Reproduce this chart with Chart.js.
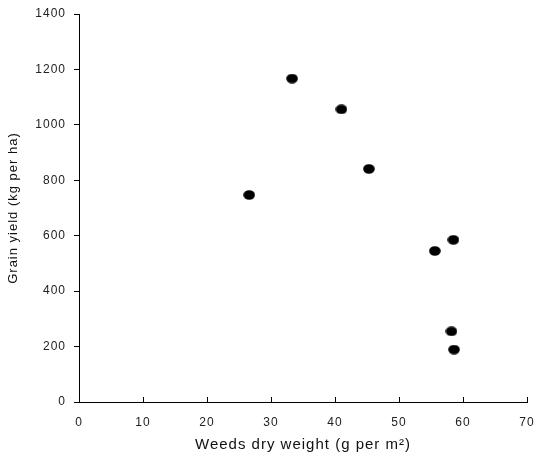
<!DOCTYPE html>
<html>
<head>
<meta charset="utf-8">
<script src="https://cdn.jsdelivr.net/npm/chart.js@4/dist/chart.umd.min.js"></script>
<style>
  html, body { margin: 0; padding: 0; background: #fff; }
  #wrap { width: 534px; height: 456px; }
</style>
</head>
<body>
<div id="wrap"><canvas id="scatterChart" width="534" height="456"></canvas></div>
<script>
var weedsWeight = [26.6, 33.3, 41.0, 45.3, 55.6, 58.5, 58.2, 58.6];
var grainYield = [747, 1167, 1056, 841, 545, 585, 255, 189];
var xTicks = [0, 10, 20, 30, 40, 50, 60, 70];
var yTicks = [0, 200, 400, 600, 800, 1000, 1200, 1400];

// black oval marker like the original
var dot = document.createElement('canvas');
dot.width = 12; dot.height = 10;
var dctx = dot.getContext('2d');
dctx.fillStyle = '#000';
dctx.beginPath();
dctx.ellipse(6, 5, 5.8, 4.8, 0, 0, Math.PI * 2);
dctx.fill();

var points = weedsWeight.map(function (w, i) { return { x: w, y: grainYield[i] }; });

// loose letter spacing of the original text, and x ticks pointing up into the plot
var textAndTicks = {
    id: 'textAndTicks',
    beforeDraw: function (chart) {
        chart.ctx.letterSpacing = '1px';
    },
    afterDraw: function (chart) {
        var c = chart.ctx, xs = chart.scales.x;
        c.save();
        c.strokeStyle = '#000';
        c.lineWidth = 1;
        xTicks.forEach(function (t) {
            var px = Math.round(xs.getPixelForValue(t)) + 0.5;
            c.beginPath();
            c.moveTo(px, xs.top);
            c.lineTo(px, xs.top - 5);
            c.stroke();
        });
        c.restore();
    }
};

function noPad(s) {
    s.paddingLeft = 0;
    s.paddingRight = 0;
    s.paddingTop = 0;
    s.paddingBottom = 0;
}

var ctx = document.getElementById('scatterChart').getContext('2d');
new Chart(ctx, {
    type: 'scatter',
    data: {
        datasets: [{
            data: points,
            pointStyle: dot,
            pointRadius: 6,
            pointHoverRadius: 6
        }]
    },
    plugins: [textAndTicks],
    options: {
        responsive: false,
        animation: false,
        layout: { padding: { top: 14, right: 7, left: 0, bottom: 0 } },
        plugins: {
            legend: { display: false },
            tooltip: { enabled: false }
        },
        scales: {
            x: {
                type: 'linear',
                min: 0,
                max: 70,
                afterFit: function (s) { s.height = 54; noPad(s); },
                afterBuildTicks: function (s) { s.ticks = xTicks.map(function (v) { return { value: v }; }); },
                grid: { display: true, drawOnChartArea: false, drawTicks: false },
                border: { display: true, color: '#000', width: 1 },
                ticks: {
                    color: '#222',
                    padding: 13,
                    maxRotation: 0,
                    callback: function (v) { return String(v); },
                    font: { family: 'Liberation Sans, Arial', size: 12 }
                },
                title: {
                    display: true,
                    text: 'Weeds dry weight (g per m²)',
                    color: '#111',
                    padding: { top: 0, bottom: 2 },
                    font: { family: 'Liberation Sans, Arial', size: 15 }
                }
            },
            y: {
                type: 'linear',
                min: 0,
                max: 1400,
                afterFit: function (s) { s.width = 79; noPad(s); },
                afterBuildTicks: function (s) { s.ticks = yTicks.map(function (v) { return { value: v }; }); },
                grid: { display: true, drawOnChartArea: false, drawTicks: true, tickLength: 5, color: '#000' },
                border: { display: true, color: '#000', width: 1 },
                ticks: {
                    color: '#222',
                    padding: 8,
                    callback: function (v) { return String(v); },
                    font: { family: 'Liberation Sans, Arial', size: 12 }
                },
                title: {
                    display: true,
                    text: 'Grain yield (kg per ha)',
                    color: '#111',
                    padding: { top: 6, bottom: 0 },
                    font: { family: 'Liberation Sans, Arial', size: 13 }
                }
            }
        }
    }
});
</script>
</body>
</html>
